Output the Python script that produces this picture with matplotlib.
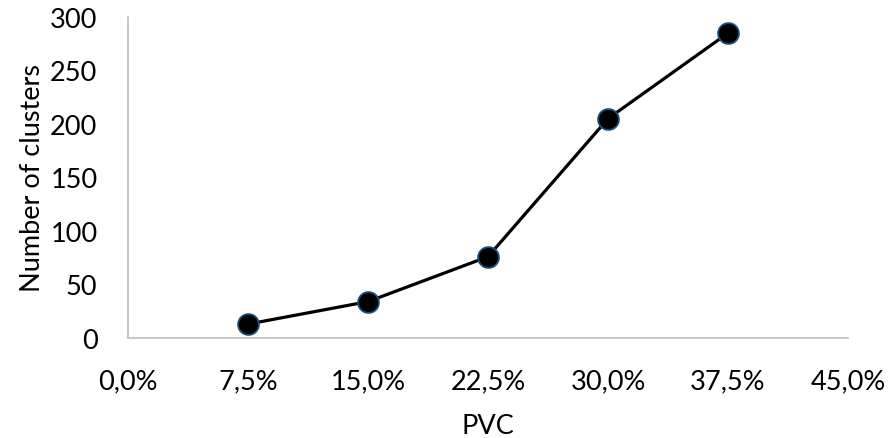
import matplotlib.pyplot as plt
from matplotlib.ticker import FuncFormatter

# PVC content (%) and resulting cluster counts
pvc = [7.5, 15.0, 22.5, 30.0, 37.5]
clusters = [13, 34, 76, 205, 285]
x_ticks = [0, 7.5, 15, 22.5, 30, 37.5, 45]
y_ticks = [0, 50, 100, 150, 200, 250, 300]

plt.rcParams['font.family'] = ['Lato', 'DejaVu Sans']

fig = plt.figure(figsize=(8.92, 4.39), dpi=100)
ax = fig.add_axes([0.1435, 0.2278, 0.8072, 0.7312])

ax.plot(pvc, clusters, color='black', linewidth=2.3, marker='o',
        markersize=15, markerfacecolor='black', markeredgecolor='#1f4e79',
        markeredgewidth=1.3, solid_capstyle='round', zorder=3)

ax.set_xlim(0, 45)
ax.set_ylim(0, 300)
ax.set_xticks(x_ticks)
ax.set_yticks(y_ticks)
ax.xaxis.set_major_formatter(FuncFormatter(lambda v, p: f"{v:.1f}%".replace('.', ',')))

for side in ['top', 'right']:
    ax.spines[side].set_visible(False)
for side in ['left', 'bottom']:
    ax.spines[side].set_color('#bfbfbf')
    ax.spines[side].set_linewidth(1.2)

ax.tick_params(axis='both', length=0, labelsize=19.5)
ax.tick_params(axis='x', pad=22)
ax.tick_params(axis='y', pad=22)

ax.set_xlabel('PVC', fontsize=19.5, labelpad=14)
ax.set_ylabel('Number of clusters', fontsize=19.5, labelpad=4)

fig.savefig('out.png', dpi=100)
